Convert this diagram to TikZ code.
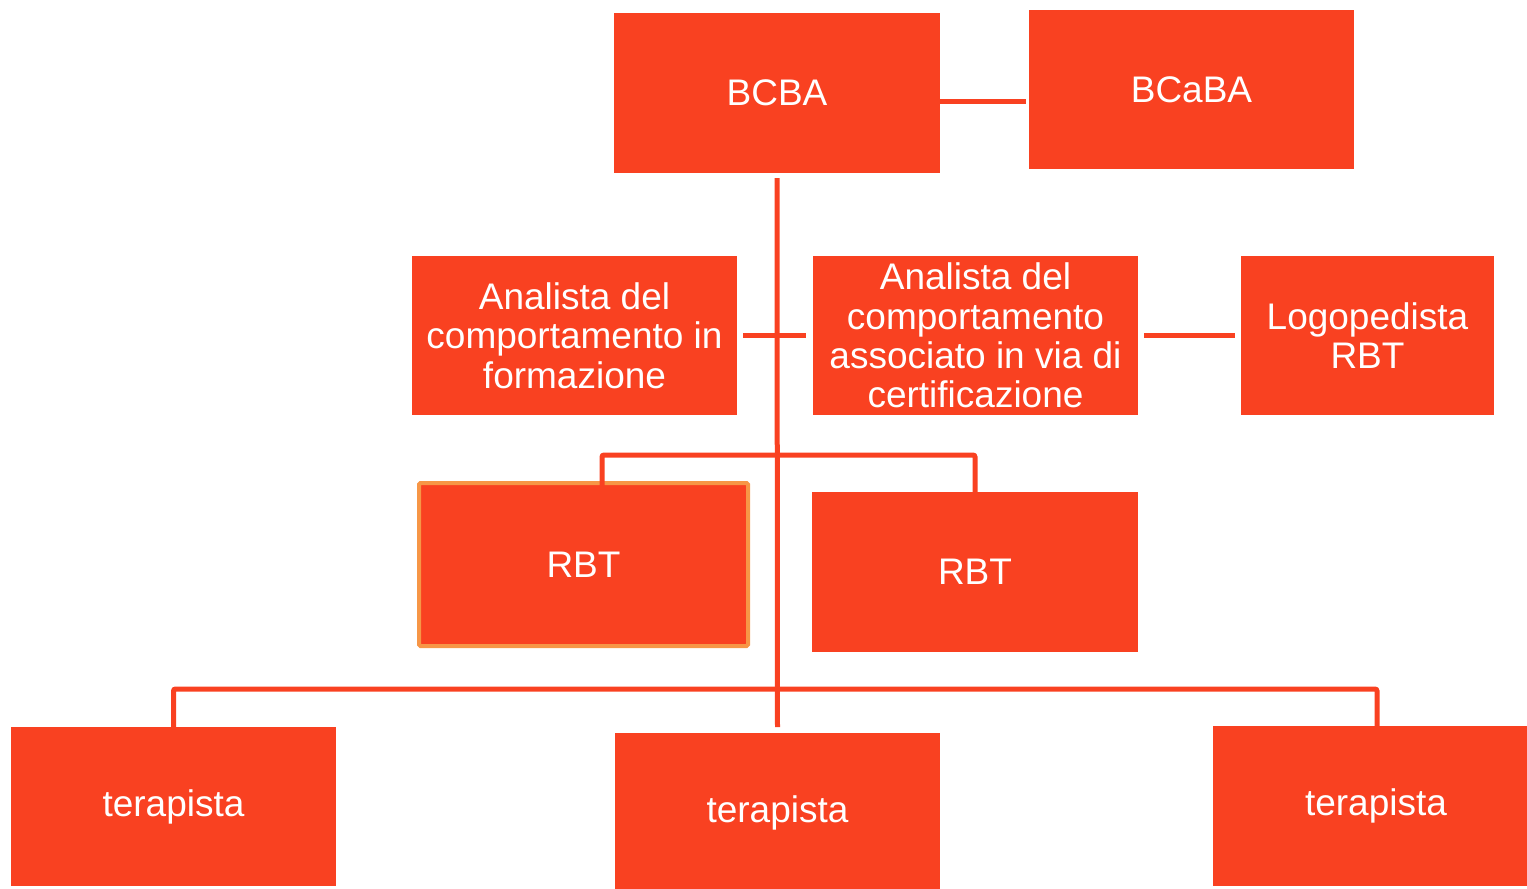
\documentclass[tikz,border=0pt]{standalone}
\usepackage{fontspec}
\setmainfont{Liberation Sans}
\definecolor{boxred}{HTML}{F94121}
\definecolor{boxorange}{HTML}{F79646}
\begin{document}
\begin{tikzpicture}[x=1pt,y=-1pt,
  box/.style={rectangle, fill=boxred, draw=none, inner sep=0pt, outer sep=0pt,
    text=white, align=center, font=\fontsize{37}{39.3}\selectfont},
  conn/.style={draw=boxred, line width=5pt, rounded corners=2pt}]
\useasboundingbox (0,0) rectangle (1527,889);
\node[box, minimum width=326pt, minimum height=160pt] (bcba) at (777,93) {BCBA};
\node[box, minimum width=325pt, minimum height=159pt] (bcaba) at (1191.5,89.5) {BCaBA};
\node[box, minimum width=325pt, minimum height=159pt] (form) at (574.5,335.5) {Analista del\\comportamento in\\formazione};
\node[box, minimum width=325pt, minimum height=159pt] (assoc) at (975.5,335.5) {Analista del\\comportamento\\associato in via di\\certificazione};
\node[box, minimum width=253pt, minimum height=159pt] (logo) at (1367.5,335.5) {Logopedista\\RBT};
\node[box, draw=boxorange, line width=4pt, rounded corners=1.5pt, minimum width=329pt, minimum height=163pt] (rbt1) at (583.5,564.5) {RBT};
\node[box, minimum width=326pt, minimum height=160pt] (rbt2) at (975,572) {RBT};
\node[box, minimum width=325pt, minimum height=159pt] (ter1) at (173.5,806.5) {\raisebox{-3pt}{terapista}};
\node[box, minimum width=325pt, minimum height=160pt] (ter2) at (777.5,813) {\raisebox{-3pt}{terapista}};
\node[box, minimum width=326pt, minimum height=160pt] (ter3) at (1376,806) {\raisebox{-3pt}{terapista}};
\coordinate (ytop) at (0,101);
\coordinate (yrbt) at (0,455);
\coordinate (ybot) at (0,689);
% connectors
\draw[conn, shorten >=3pt] (bcba.east |- ytop) -- (bcaba.west |- ytop);
\draw[conn, shorten <=5pt, shorten >=6pt] (bcba.south) -- (ter2.north);
\draw[conn, shorten <=6pt, shorten >=7pt] (form.east) -- (assoc.west);
\draw[conn, shorten <=6pt, shorten >=6pt] (assoc.east) -- (logo.west);
\draw[conn] ([xshift=18.5pt,yshift=-4pt]rbt1.north) |- (bcba.south |- yrbt) -| ([yshift=-5pt]rbt2.north);
\draw[conn] ([yshift=-7pt]ter1.north) |- (bcba.south |- ybot) -| ([xshift=1pt,yshift=-6pt]ter3.north);
\end{tikzpicture}
\end{document}
